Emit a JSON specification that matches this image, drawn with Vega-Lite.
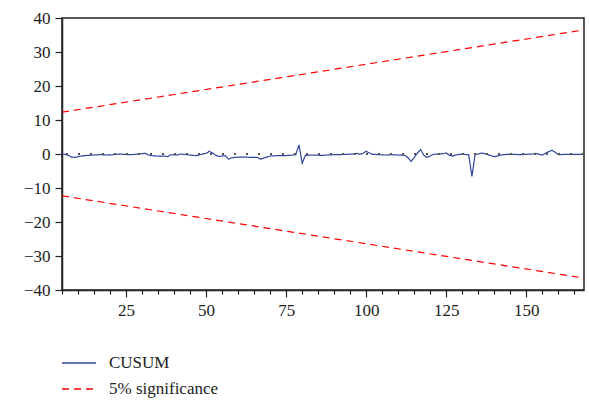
{
  "$schema": "https://vega.github.io/schema/vega-lite/v6.json",
  "width": 522,
  "height": 272,
  "autosize": {"type": "none"},
  "padding": {"left": 62, "top": 18, "right": 5, "bottom": 110},
  "background": "white",
  "config": {
    "view": {"stroke": "#222", "strokeWidth": 1.5},
    "font": "Times New Roman",
    "axis": {"labelFont": "Times New Roman", "labelFontSize": 17, "labelColor": "#222", "domainColor": "#222", "tickColor": "#222", "grid": false, "title": null, "labelOverlap": false}
  },
  "datasets": {
    "d": [
      {"x": 5, "value": 0.0, "series": "CUSUM", "grp": "c"},
      {"x": 6, "value": -0.1, "series": "CUSUM", "grp": "c"},
      {"x": 7, "value": -0.4, "series": "CUSUM", "grp": "c"},
      {"x": 8, "value": -0.9, "series": "CUSUM", "grp": "c"},
      {"x": 9, "value": -1.0, "series": "CUSUM", "grp": "c"},
      {"x": 10, "value": -0.8, "series": "CUSUM", "grp": "c"},
      {"x": 11, "value": -0.6, "series": "CUSUM", "grp": "c"},
      {"x": 12, "value": -0.5, "series": "CUSUM", "grp": "c"},
      {"x": 13, "value": -0.4, "series": "CUSUM", "grp": "c"},
      {"x": 15, "value": -0.3, "series": "CUSUM", "grp": "c"},
      {"x": 17, "value": -0.2, "series": "CUSUM", "grp": "c"},
      {"x": 19, "value": -0.3, "series": "CUSUM", "grp": "c"},
      {"x": 21, "value": -0.2, "series": "CUSUM", "grp": "c"},
      {"x": 23, "value": 0.0, "series": "CUSUM", "grp": "c"},
      {"x": 24, "value": -0.1, "series": "CUSUM", "grp": "c"},
      {"x": 26, "value": -0.2, "series": "CUSUM", "grp": "c"},
      {"x": 28, "value": -0.1, "series": "CUSUM", "grp": "c"},
      {"x": 30, "value": 0.1, "series": "CUSUM", "grp": "c"},
      {"x": 31, "value": 0.2, "series": "CUSUM", "grp": "c"},
      {"x": 32, "value": -0.3, "series": "CUSUM", "grp": "c"},
      {"x": 33, "value": -0.5, "series": "CUSUM", "grp": "c"},
      {"x": 35, "value": -0.6, "series": "CUSUM", "grp": "c"},
      {"x": 37, "value": -0.6, "series": "CUSUM", "grp": "c"},
      {"x": 38, "value": -0.8, "series": "CUSUM", "grp": "c"},
      {"x": 39, "value": -0.2, "series": "CUSUM", "grp": "c"},
      {"x": 41, "value": -0.3, "series": "CUSUM", "grp": "c"},
      {"x": 42, "value": 0.0, "series": "CUSUM", "grp": "c"},
      {"x": 44, "value": -0.2, "series": "CUSUM", "grp": "c"},
      {"x": 46, "value": -0.4, "series": "CUSUM", "grp": "c"},
      {"x": 47, "value": -0.5, "series": "CUSUM", "grp": "c"},
      {"x": 48, "value": -0.2, "series": "CUSUM", "grp": "c"},
      {"x": 50, "value": 0.2, "series": "CUSUM", "grp": "c"},
      {"x": 51, "value": 0.8, "series": "CUSUM", "grp": "c"},
      {"x": 52, "value": 0.3, "series": "CUSUM", "grp": "c"},
      {"x": 53, "value": -0.4, "series": "CUSUM", "grp": "c"},
      {"x": 54, "value": -0.7, "series": "CUSUM", "grp": "c"},
      {"x": 55, "value": -0.6, "series": "CUSUM", "grp": "c"},
      {"x": 56, "value": -0.5, "series": "CUSUM", "grp": "c"},
      {"x": 57, "value": -1.5, "series": "CUSUM", "grp": "c"},
      {"x": 58, "value": -1.1, "series": "CUSUM", "grp": "c"},
      {"x": 60, "value": -0.9, "series": "CUSUM", "grp": "c"},
      {"x": 62, "value": -0.9, "series": "CUSUM", "grp": "c"},
      {"x": 64, "value": -1.0, "series": "CUSUM", "grp": "c"},
      {"x": 66, "value": -1.0, "series": "CUSUM", "grp": "c"},
      {"x": 67, "value": -1.5, "series": "CUSUM", "grp": "c"},
      {"x": 68, "value": -1.2, "series": "CUSUM", "grp": "c"},
      {"x": 70, "value": -0.6, "series": "CUSUM", "grp": "c"},
      {"x": 72, "value": -0.5, "series": "CUSUM", "grp": "c"},
      {"x": 74, "value": -0.5, "series": "CUSUM", "grp": "c"},
      {"x": 76, "value": -0.4, "series": "CUSUM", "grp": "c"},
      {"x": 78, "value": -0.2, "series": "CUSUM", "grp": "c"},
      {"x": 79, "value": 2.7, "series": "CUSUM", "grp": "c"},
      {"x": 80, "value": -2.7, "series": "CUSUM", "grp": "c"},
      {"x": 81, "value": -0.4, "series": "CUSUM", "grp": "c"},
      {"x": 83, "value": -0.3, "series": "CUSUM", "grp": "c"},
      {"x": 86, "value": -0.4, "series": "CUSUM", "grp": "c"},
      {"x": 88, "value": -0.3, "series": "CUSUM", "grp": "c"},
      {"x": 90, "value": -0.2, "series": "CUSUM", "grp": "c"},
      {"x": 92, "value": -0.2, "series": "CUSUM", "grp": "c"},
      {"x": 94, "value": -0.1, "series": "CUSUM", "grp": "c"},
      {"x": 96, "value": 0.0, "series": "CUSUM", "grp": "c"},
      {"x": 97, "value": 0.2, "series": "CUSUM", "grp": "c"},
      {"x": 98, "value": -0.1, "series": "CUSUM", "grp": "c"},
      {"x": 99, "value": 0.2, "series": "CUSUM", "grp": "c"},
      {"x": 100, "value": 0.8, "series": "CUSUM", "grp": "c"},
      {"x": 101, "value": 0.3, "series": "CUSUM", "grp": "c"},
      {"x": 102, "value": -0.1, "series": "CUSUM", "grp": "c"},
      {"x": 104, "value": -0.2, "series": "CUSUM", "grp": "c"},
      {"x": 106, "value": -0.3, "series": "CUSUM", "grp": "c"},
      {"x": 108, "value": -0.2, "series": "CUSUM", "grp": "c"},
      {"x": 110, "value": -0.3, "series": "CUSUM", "grp": "c"},
      {"x": 112, "value": -0.4, "series": "CUSUM", "grp": "c"},
      {"x": 113, "value": -1.0, "series": "CUSUM", "grp": "c"},
      {"x": 114, "value": -2.2, "series": "CUSUM", "grp": "c"},
      {"x": 115, "value": -1.0, "series": "CUSUM", "grp": "c"},
      {"x": 116, "value": 0.3, "series": "CUSUM", "grp": "c"},
      {"x": 117, "value": 1.3, "series": "CUSUM", "grp": "c"},
      {"x": 118, "value": -0.4, "series": "CUSUM", "grp": "c"},
      {"x": 119, "value": -1.0, "series": "CUSUM", "grp": "c"},
      {"x": 120, "value": -0.6, "series": "CUSUM", "grp": "c"},
      {"x": 121, "value": -0.1, "series": "CUSUM", "grp": "c"},
      {"x": 123, "value": 0.0, "series": "CUSUM", "grp": "c"},
      {"x": 124, "value": 0.1, "series": "CUSUM", "grp": "c"},
      {"x": 125, "value": 0.3, "series": "CUSUM", "grp": "c"},
      {"x": 126, "value": -0.4, "series": "CUSUM", "grp": "c"},
      {"x": 127, "value": -0.6, "series": "CUSUM", "grp": "c"},
      {"x": 128, "value": -0.3, "series": "CUSUM", "grp": "c"},
      {"x": 129, "value": -0.1, "series": "CUSUM", "grp": "c"},
      {"x": 130, "value": -0.1, "series": "CUSUM", "grp": "c"},
      {"x": 132, "value": -0.2, "series": "CUSUM", "grp": "c"},
      {"x": 133, "value": -6.6, "series": "CUSUM", "grp": "c"},
      {"x": 134, "value": -0.1, "series": "CUSUM", "grp": "c"},
      {"x": 135, "value": 0.0, "series": "CUSUM", "grp": "c"},
      {"x": 136, "value": 0.3, "series": "CUSUM", "grp": "c"},
      {"x": 137, "value": 0.1, "series": "CUSUM", "grp": "c"},
      {"x": 138, "value": -0.2, "series": "CUSUM", "grp": "c"},
      {"x": 139, "value": -0.5, "series": "CUSUM", "grp": "c"},
      {"x": 140, "value": -0.8, "series": "CUSUM", "grp": "c"},
      {"x": 141, "value": -0.6, "series": "CUSUM", "grp": "c"},
      {"x": 142, "value": -0.3, "series": "CUSUM", "grp": "c"},
      {"x": 144, "value": -0.1, "series": "CUSUM", "grp": "c"},
      {"x": 146, "value": -0.1, "series": "CUSUM", "grp": "c"},
      {"x": 148, "value": -0.2, "series": "CUSUM", "grp": "c"},
      {"x": 150, "value": -0.1, "series": "CUSUM", "grp": "c"},
      {"x": 152, "value": 0.0, "series": "CUSUM", "grp": "c"},
      {"x": 153, "value": 0.2, "series": "CUSUM", "grp": "c"},
      {"x": 154, "value": -0.1, "series": "CUSUM", "grp": "c"},
      {"x": 155, "value": -0.3, "series": "CUSUM", "grp": "c"},
      {"x": 156, "value": 0.2, "series": "CUSUM", "grp": "c"},
      {"x": 157, "value": 0.7, "series": "CUSUM", "grp": "c"},
      {"x": 158, "value": 1.1, "series": "CUSUM", "grp": "c"},
      {"x": 159, "value": 0.5, "series": "CUSUM", "grp": "c"},
      {"x": 160, "value": -0.2, "series": "CUSUM", "grp": "c"},
      {"x": 162, "value": -0.1, "series": "CUSUM", "grp": "c"},
      {"x": 165, "value": -0.1, "series": "CUSUM", "grp": "c"},
      {"x": 168, "value": -0.1, "series": "CUSUM", "grp": "c"},
      {"x": 5, "value": 12.3, "series": "5% significance", "grp": "upper"},
      {"x": 168, "value": 36.5, "series": "5% significance", "grp": "upper"},
      {"x": 5, "value": -12.3, "series": "5% significance", "grp": "lower"},
      {"x": 168, "value": -36.5, "series": "5% significance", "grp": "lower"}
    ]
  },
  "data": {"name": "d"},
  "layer": [
    {
      "mark": {"type": "line", "strokeWidth": 1.2, "clip": true},
      "encoding": {
        "x": {"field": "x", "type": "quantitative", "scale": {"domain": [5, 168], "nice": false, "zero": false},
              "axis": {"orient": "bottom", "values": [5,10,15,20,25,30,35,40,45,50,55,60,65,70,75,80,85,90,95,100,105,110,115,120,125,130,135,140,145,150,155,160,165],
                       "labelExpr": "datum.value % 25 === 0 ? datum.label : ''",
                       "tickSize": {"condition": {"test": "datum.value % 25 === 0", "value": 7}, "value": 4},
                       "tickWidth": 1.2, "domainWidth": 1.5, "labelPadding": 5, "labelFont": "Times New Roman", "labelFontSize": 17, "labelOverlap": false}},
        "y": {"field": "value", "type": "quantitative", "scale": {"domain": [-40, 40], "nice": false},
              "axis": {"values": [-40,-30,-20,-10,0,10,20,30,40], "tickSize": 7, "tickWidth": 1.2, "domainWidth": 1.5, "labelPadding": 5, "labelFont": "Times New Roman", "labelFontSize": 17, "labelOverlap": false}},
        "detail": {"field": "grp"},
        "color": {"field": "series", "type": "nominal", "scale": {"domain": ["CUSUM", "5% significance"], "range": ["#2f46a0", "#ff0000"]},
                  "legend": {"title": null, "orient": "none", "legendX": -1, "legendY": 327, "symbolType": "stroke", "symbolSize": 1150, "symbolStrokeWidth": 1.3, "labelFont": "Times New Roman", "labelFontSize": 17, "labelColor": "#222", "rowPadding": -5, "labelOffset": 12, "padding": 0}},
        "strokeDash": {"field": "series", "type": "nominal", "scale": {"domain": ["CUSUM", "5% significance"], "range": [[1, 0], [7, 5]]},
                  "legend": {"title": null, "orient": "none", "legendX": -1, "legendY": 327, "symbolType": "stroke", "symbolSize": 1150, "symbolStrokeWidth": 1.3, "labelFont": "Times New Roman", "labelFontSize": 17, "labelColor": "#222", "rowPadding": -5, "labelOffset": 12, "padding": 0}}
      }
    },
    {
      "mark": {"type": "rule", "strokeDash": [1.5, 10.5], "stroke": "#555", "strokeWidth": 1},
      "encoding": {"y": {"datum": 0, "type": "quantitative", "scale": {"domain": [-40, 40], "nice": false},
                         "axis": {"values": [-40,-30,-20,-10,0,10,20,30,40], "tickSize": 7, "tickWidth": 1.2, "domainWidth": 1.5, "labelPadding": 5, "labelFont": "Times New Roman", "labelFontSize": 17, "labelOverlap": false}}}
    }
  ]
}
